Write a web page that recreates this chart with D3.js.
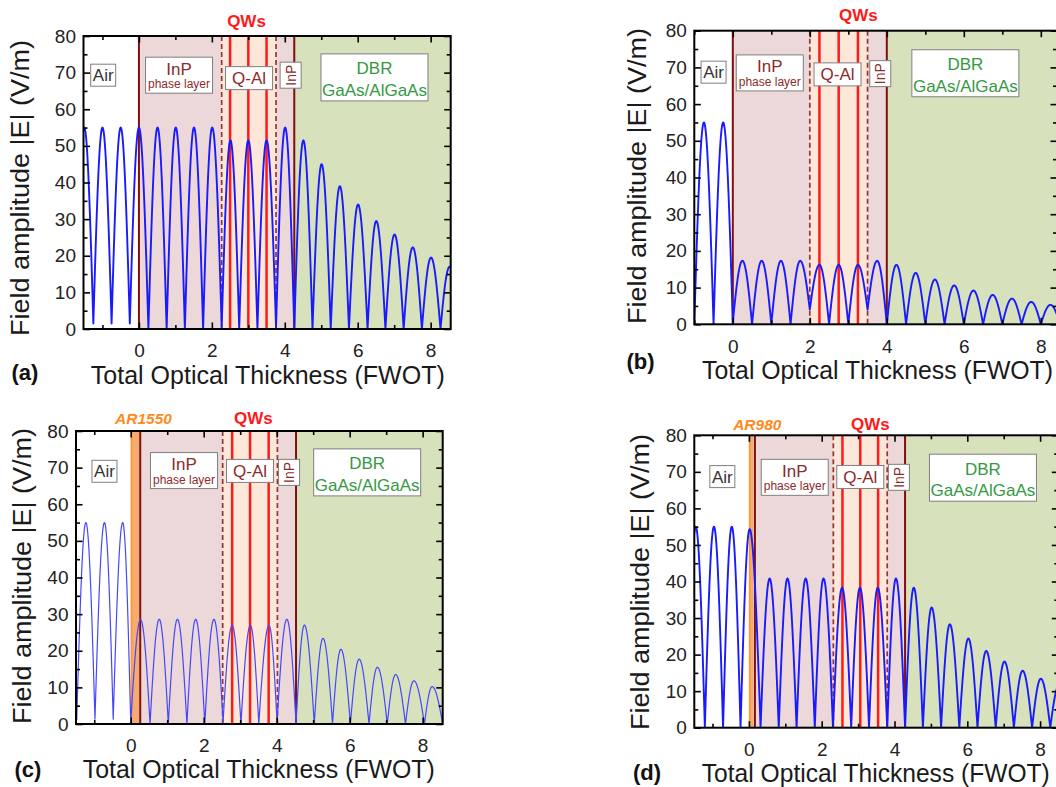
<!DOCTYPE html>
<html><head><meta charset="utf-8">
<script src="https://cdn.jsdelivr.net/npm/d3@7"></script>
<style>
body{margin:0;background:#fff;}
svg{display:block;font-family:"Liberation Sans",Arial,Helvetica,sans-serif;}
</style>
</head><body>
<svg id="chart" width="1056" height="787"></svg>
<script>
// ---------------- data ----------------
const yTicks = [0,10,20,30,40,50,60,70,80];
const yMinor = [5,15,25,35,45,55,65,75];
const xTicks = [0,2,4,6,8];
const xMinor = [-1,1,3,5,7];
const yLabel = "Field amplitude |E| (V/m)";
const xLabel = "Total Optical Thickness (FWOT)";
const panelLetters = ["(a)","(b)","(c)","(d)"];

// panel (a): standing-wave peaks and troughs of |E|
const aPeakX   = [-1.5,-1.0,-0.5,0.0,0.51,1.01,1.51,2.01,2.51,3.0,3.5,4.01,4.51,5.01,5.51,6.01,6.51,7.01,7.51,8.01,8.52];
const aPeakV   = [55,55,55,55,55,55,55,55,51.5,51.5,51.5,55,51.5,45,39,34,29.5,25.8,22.3,19.5,17];
const aTroughX = [-1.75,-1.25,-0.75,-0.25,0.26,0.76,1.26,1.76,2.27,2.75,3.25,3.76,4.26,4.76,5.26,5.76,6.27,6.76,7.26,7.76,8.27,8.77];
const aTroughV = [1.5,1.5,1.5,1.5,0,0,0,0,0.5,0,0,0.5,0,0,0,0,0,0,0,0,0,0];
const aLayers  = [["InP",0,2.27],["QAl",2.27,3.76],["InP",3.76,4.26],["DBR",4.26,8.55]];
const aSolid   = [0,4.26];
const aDashed  = [2.27,3.76];
const aQW      = [2.5,3.0,3.5];

// panel (b)
const bPeakX   = [-0.75,-0.25,0.25,0.75,1.25,1.75,2.25,2.75,3.25,3.75,4.25,4.75,5.25,5.75,6.25,6.75,7.25,7.75,8.25];
const bPeakV   = [55,55,17.3,17.3,17.3,17.3,16.2,16.2,16.2,17.3,16.2,14.0,12.2,10.6,9.2,8.0,7.0,6.1,5.3];
const bTroughX = [-1.0,-0.5,0.0,0.5,1.0,1.5,2.0,2.5,3.0,3.5,4.0,4.5,5.0,5.5,6.0,6.5,7.0,7.5,8.0,8.5];
const bTroughV = [0,0,0.5,0,0,0,4,0,0,4,0,0,0,0,0,0,0,0,0,0];
const bLayers  = [["InP",0,2.0],["QAl",2.0,3.5],["InP",3.5,4.0],["DBR",4.0,8.5]];
const bSolid   = [0,4.0];
const bDashed  = [2.0,3.5];
const bQW      = [2.25,2.75,3.25];

// panel (c) with AR1550 coating
const cPeakX   = [-1.23,-0.72,-0.22,0.27,0.78,1.28,1.78,2.28,2.78,3.28,3.79,4.28,4.76,5.27,5.76,6.26,6.76,7.26,7.76,8.26];
const cPeakV   = [55,55,55,28.5,28.6,28.6,28.6,28.6,26.9,26.9,26.9,28.6,27.0,23.4,20.4,17.7,15.5,13.5,11.8,10.2];
const cTroughX = [-1.48,-0.98,-0.48,0.0,0.53,1.03,1.54,2.03,2.53,3.02,3.51,4.01,4.53,5.03,5.53,6.02,6.53,7.03,7.53,8.05,8.55];
const cTroughV = [1,1.3,1.3,0.3,0,0,0,0,0.5,0,0,0.5,0,0,0,0,0,0,0,0,0];
const cLayers  = [["AR",0,0.23],["InP",0.23,2.52],["QAl",2.52,4.02],["InP",4.02,4.53],["DBR",4.53,8.55]];
const cSolid   = [0.26,4.53];
const cDashed  = [2.52,4.02];
const cQW      = [2.78,3.27,3.78];

// panel (d) with AR980 coating
const dPeakX   = [-1.46,-0.96,-0.47,0.02,0.57,1.06,1.56,2.05,2.56,3.05,3.54,4.04,4.53,5.02,5.52,6.03,6.52,7.02,7.52,8.02,8.52];
const dPeakV   = [55,55,55,54.3,40.8,40.8,40.8,40.8,38.3,38.3,38.3,40.8,38.3,32.9,28.3,24.4,21.0,18.1,15.6,13.4,11.6];
const dTroughX = [-1.71,-1.21,-0.71,-0.23,0.32,0.82,1.31,1.81,2.31,2.81,3.3,3.8,4.29,4.78,5.28,5.78,6.28,6.78,7.28,7.78,8.28,8.78];
const dTroughV = [0,0,0,0,0,0,0,0,0,0,0,0,0,0,0,0,0,0,0,0,0,0];
const dLayers  = [["AR",0,0.13],["InP",0.13,2.32],["QAl",2.32,3.8],["InP",3.8,4.29],["DBR",4.29,8.5]];
const dSolid   = [0.165,4.29];
const dDashed  = [2.32,3.8];
const dQW      = [2.57,3.06,3.55];

// ---------------- layout ----------------
const panels = [
  {frame:{l:83.5,r:450.7,t:36,b:329}, xDomain:[-1.52,8.55],
   px:aPeakX,pv:aPeakV,tx:aTroughX,tv:aTroughV,layers:aLayers,solid:aSolid,dashed:aDashed,qw:aQW,
   thin:false, ar:null,
   ann:{air:[-0.98,69.3],inp:[1.10,69.3],qal:[3.02,68.5],inpr:[4.16,69.3],dbr:[6.46,68.7],qwX:2.95,topOff:9},
   letter:{x:11.5,y:380}, xlab:{x:267.8,y:384,len:354}, ylab:{x:29,y:188}},
  {frame:{l:694.3,r:1057,t:30.7,b:324.3}, xDomain:[-1,8.42],
   px:bPeakX,pv:bPeakV,tx:bTroughX,tv:bTroughV,layers:bLayers,solid:bSolid,dashed:bDashed,qw:bQW,
   thin:false, ar:null,
   ann:{air:[-0.50,68.7],inp:[0.96,68.5],qal:[2.72,68.1],inpr:[3.83,68.3],dbr:[6.04,68.4],qwX:3.26,topOff:9.4},
   letter:{x:626.5,y:369}, xlab:{x:877.5,y:378.5,len:351}, ylab:{x:646,y:176}},
  {frame:{l:76,r:442.7,t:431,b:724}, xDomain:[-1.5,8.55],
   px:cPeakX,pv:cPeakV,tx:cTroughX,tv:cTroughV,layers:cLayers,solid:cSolid,dashed:cDashed,qw:cQW,
   thin:true, ar:{text:"AR1550",x:0.35},
   ann:{air:[-0.72,69.0],inp:[1.46,69.2],qal:[3.27,69.1],inpr:[4.34,68.7],dbr:[6.48,68.7],qwX:3.36,topOff:7.5},
   letter:{x:14.5,y:777}, xlab:{x:258.8,y:778,len:352}, ylab:{x:31,y:576}},
  {frame:{l:694.3,r:1058.3,t:435.3,b:727.7}, xDomain:[-1.5,8.5],
   px:dPeakX,pv:dPeakV,tx:dTroughX,tv:dTroughV,layers:dLayers,solid:dSolid,dashed:dDashed,qw:dQW,
   thin:false, ar:{text:"AR980",x:0.23},
   ann:{air:[-0.73,68.7],inp:[1.26,68.5],qal:[3.06,68.6],inpr:[4.12,68.5],dbr:[6.43,68.4],qwX:3.34,topOff:5.5},
   letter:{x:633,y:780}, xlab:{x:875.8,y:781.5,len:348}, ylab:{x:649,y:582}}
];

const fills = {InP:"#ecd8d8", QAl:"#fde7d9", DBR:"#d7e2bd", AR:"#f6ac6e"};
const svg = d3.select("#chart");

function wave(px,pv,tx,tv){
  const pts=[], n=24;
  for(let i=0;i<px.length;i++){
    const x0=tx[i], v0=tv[i], x1=tx[i+1], v1=tv[i+1];
    for(let k=0;k<=n;k++){const s=k/n; pts.push([x0+(px[i]-x0)*s, v0+(pv[i]-v0)*Math.sin(Math.PI/2*s)]);}
    for(let k=1;k<=n;k++){const s=k/n; pts.push([px[i]+(x1-px[i])*s, pv[i]+(v1-pv[i])*(1-Math.cos(Math.PI/2*s))]);}
  }
  return pts;
}

function drawBox(g, cx, cy, w, h){
  g.append("rect").attr("x",cx-w/2).attr("y",cy-h/2).attr("width",w).attr("height",h)
   .attr("fill","#fff").attr("stroke","#7f7f7f").attr("stroke-width",1);
}

panels.forEach((p,i)=>{
  const f=p.frame;
  const x=d3.scaleLinear().domain(p.xDomain).range([f.l,f.r]);
  const y=d3.scaleLinear().domain([0,80]).range([f.b,f.t]);
  const g=svg.append("g");
  const clipId="clip"+i;
  g.append("clipPath").attr("id",clipId).append("rect")
    .attr("x",f.l).attr("y",f.t).attr("width",f.r-f.l).attr("height",f.b-f.t);
  const plot=g.append("g").attr("clip-path",`url(#${clipId})`);

  // layer fills
  plot.selectAll(".layer").data(p.layers).enter().append("rect")
    .attr("x",d=>x(d[1])).attr("width",d=>x(d[2])-x(d[1]))
    .attr("y",f.t).attr("height",f.b-f.t).attr("fill",d=>fills[d[0]]);
  // AR left edge
  p.layers.filter(d=>d[0]==="AR").forEach(d=>{
    plot.append("line").attr("x1",x(d[1])+0.8).attr("x2",x(d[1])+0.8).attr("y1",f.t).attr("y2",f.b)
      .attr("stroke","#ff9630").attr("stroke-width",1.6);
  });

  // boundary lines
  plot.selectAll(".solid").data(p.solid).enter().append("line")
    .attr("x1",d=>x(d)).attr("x2",d=>x(d)).attr("y1",f.t).attr("y2",f.b)
    .attr("stroke","#7d1010").attr("stroke-width",2);
  plot.selectAll(".dash").data(p.dashed).enter().append("line")
    .attr("x1",d=>x(d)).attr("x2",d=>x(d)).attr("y1",f.t).attr("y2",f.b)
    .attr("stroke","#993333").attr("stroke-width",1.7).attr("stroke-dasharray","5,3");
  plot.selectAll(".qw").data(p.qw).enter().append("line")
    .attr("x1",d=>x(d)).attr("x2",d=>x(d)).attr("y1",f.t).attr("y2",f.b)
    .attr("stroke","#ff1a1a").attr("stroke-width",2.5);

  // field curve
  const line=d3.line().x(d=>x(d[0])).y(d=>y(d[1]));
  plot.append("path").datum(wave(p.px,p.pv,p.tx,p.tv))
    .attr("d",line).attr("fill","none")
    .attr("stroke",p.thin?"#4646ff":"#1a1aff")
    .attr("stroke-width",p.thin?1.2:1.9)
    .attr("stroke-linejoin","round");

  // annotation boxes
  const A=p.ann, ann=g.append("g");
  let c=[x(A.air[0]),y(A.air[1])];
  drawBox(ann,c[0],c[1],25,22);
  ann.append("text").attr("x",c[0]).attr("y",c[1]+6).attr("text-anchor","middle")
    .attr("font-size",17).attr("fill","#333").text("Air");
  c=[x(A.inp[0]),y(A.inp[1])];
  drawBox(ann,c[0],c[1],67,36);
  ann.append("text").attr("x",c[0]).attr("y",c[1]-0.5).attr("text-anchor","middle")
    .attr("font-size",17).attr("fill","#8b2b2b").text("InP");
  ann.append("text").attr("x",c[0]).attr("y",c[1]+13).attr("text-anchor","middle")
    .attr("font-size",12).attr("fill","#8b2b2b").text("phase layer");
  c=[x(A.qal[0]),y(A.qal[1])];
  drawBox(ann,c[0],c[1],47,23);
  ann.append("text").attr("x",c[0]).attr("y",c[1]+6).attr("text-anchor","middle")
    .attr("font-size",17).attr("fill","#8b2b2b").text("Q-Al");
  c=[x(A.inpr[0]),y(A.inpr[1])];
  drawBox(ann,c[0],c[1],21,26);
  ann.append("text").attr("transform",`translate(${c[0]+5},${c[1]}) rotate(-90)`)
    .attr("text-anchor","middle").attr("font-size",14).attr("fill","#8b2b2b").text("InP");
  c=[x(A.dbr[0]),y(A.dbr[1])];
  drawBox(ann,c[0],c[1],107,47);
  ann.append("text").attr("x",c[0]).attr("y",c[1]-3).attr("text-anchor","middle")
    .attr("font-size",17).attr("fill","#35993f").text("DBR");
  ann.append("text").attr("x",c[0]).attr("y",c[1]+18.5).attr("text-anchor","middle")
    .attr("font-size",17).attr("fill","#35993f").text("GaAs/AlGaAs");

  // top labels
  g.append("text").attr("x",x(A.qwX)).attr("y",f.t-A.topOff).attr("text-anchor","middle")
    .attr("font-size",17).attr("font-weight","bold").attr("fill","#ff1a1a").text("QWs");
  if(p.ar){
    g.append("text").attr("x",x(p.ar.x)).attr("y",f.t-A.topOff).attr("text-anchor","middle")
      .attr("font-size",15.5).attr("font-weight","bold").attr("font-style","italic")
      .attr("fill","#ff8a1c").text(p.ar.text);
  }

  // axes (inward ticks on all sides)
  const styleAxis=sel=>{sel.select(".domain").remove(); sel.selectAll("line").attr("stroke","#000").attr("stroke-width",1.6);
    sel.selectAll("text").attr("font-size",19).attr("fill","#222").attr("font-family",'"Liberation Sans",Arial,sans-serif');};
  g.append("g").attr("transform",`translate(0,${f.b})`)
    .call(d3.axisBottom(x).tickValues(xTicks).tickSize(-6.5).tickPadding(15)).call(styleAxis);
  g.append("g").attr("transform",`translate(0,${f.b})`)
    .call(d3.axisBottom(x).tickValues(xMinor).tickSize(-4).tickFormat("")).call(styleAxis);
  g.append("g").attr("transform",`translate(0,${f.t})`)
    .call(d3.axisTop(x).tickValues(xTicks).tickSize(-6.5).tickFormat("")).call(styleAxis);
  g.append("g").attr("transform",`translate(0,${f.t})`)
    .call(d3.axisTop(x).tickValues(xMinor).tickSize(-4).tickFormat("")).call(styleAxis);
  g.append("g").attr("transform",`translate(${f.l},0)`)
    .call(d3.axisLeft(y).tickValues(yTicks).tickSize(-6.5).tickPadding(7.5)).call(styleAxis);
  g.append("g").attr("transform",`translate(${f.l},0)`)
    .call(d3.axisLeft(y).tickValues(yMinor).tickSize(-4).tickFormat("")).call(styleAxis);
  g.append("g").attr("transform",`translate(${f.r},0)`)
    .call(d3.axisRight(y).tickValues(yTicks).tickSize(-6.5).tickFormat("")).call(styleAxis);
  g.append("g").attr("transform",`translate(${f.r},0)`)
    .call(d3.axisRight(y).tickValues(yMinor).tickSize(-4).tickFormat("")).call(styleAxis);

  // frame
  g.append("rect").attr("x",f.l).attr("y",f.t).attr("width",f.r-f.l).attr("height",f.b-f.t)
    .attr("fill","none").attr("stroke","#000").attr("stroke-width",2);

  // axis titles
  g.append("text").attr("x",p.xlab.x).attr("y",p.xlab.y).attr("text-anchor","middle")
    .attr("font-size",25).attr("fill","#1a1a1a")
    .attr("textLength",p.xlab.len).attr("lengthAdjust","spacingAndGlyphs").text(xLabel);
  g.append("text").attr("transform",`translate(${p.ylab.x},${p.ylab.y}) rotate(-90)`)
    .attr("text-anchor","middle").attr("font-size",26.5).attr("fill","#1a1a1a")
    .attr("textLength",296).attr("lengthAdjust","spacingAndGlyphs").text(yLabel);
  g.append("text").attr("x",p.letter.x).attr("y",p.letter.y)
    .attr("font-size",22).attr("font-weight","bold").attr("fill","#111").text(panelLetters[i]);
});
</script>
</body></html>
